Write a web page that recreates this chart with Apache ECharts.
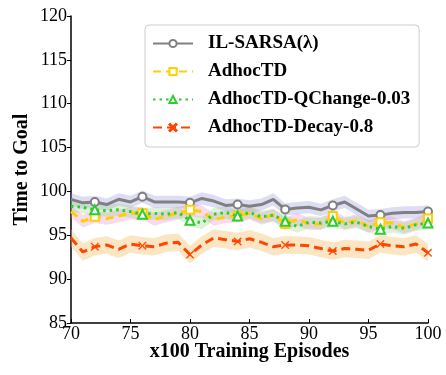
<!DOCTYPE html>
<html>
<head>
<meta charset="utf-8">
<script src="https://cdn.jsdelivr.net/npm/echarts@6/dist/echarts.min.js"></script>
<style>
  html, body { margin: 0; padding: 0; background: #fff; }
  #chart { width: 446px; height: 375px; }
</style>
</head>
<body>
<div id="chart"></div>
<script>
// Episodes (x100) shown in this window
const episodes = [70, 71, 72, 73, 74, 75, 76, 77, 78, 79, 80, 81, 82, 83, 84, 85,
                  86, 87, 88, 89, 90, 91, 92, 93, 94, 95, 96, 97, 98, 99, 100];

// Mean time to goal per method
const ilSarsa = [99.1, 98.7, 98.8, 98.5, 99.1, 98.8, 99.4, 98.8, 98.8, 98.8, 98.7, 99.2, 98.9, 98.4, 98.5, 98.3,
                 98.5, 99.1, 97.95, 98.1, 98.2, 97.9, 98.4, 98.8, 98.0, 97.2, 97.3, 97.5, 97.6, 97.6, 97.7];
const adhocTD = [97.7, 96.6, 97.1, 96.9, 97.2, 97.5, 97.5, 96.8, 97.2, 97.5, 97.9, 97.7, 96.8, 97.1, 97.2, 97.5,
                 96.9, 97.3, 96.3, 96.8, 96.3, 96.3, 97.2, 96.4, 96.7, 96.0, 96.5, 96.4, 95.9, 96.3, 96.9];
const qChange = [98.3, 98.2, 97.9, 97.8, 97.9, 97.7, 97.4, 97.5, 97.4, 97.6, 96.7, 96.4, 97.4, 97.6, 97.2, 97.6,
                 97.1, 97.3, 96.6, 96.0, 96.5, 96.4, 96.6, 96.3, 96.5, 96.0, 95.7, 96.0, 95.8, 96.2, 96.4];
const decay = [94.7, 93.1, 93.7, 93.9, 93.4, 94.0, 93.8, 93.7, 94.1, 94.2, 92.8, 93.9, 94.7, 94.5, 94.3, 94.6,
               94.2, 93.7, 93.9, 93.9, 93.8, 93.5, 93.2, 93.5, 93.4, 93.3, 94.0, 93.8, 93.7, 94.0, 93.0];

// Half-width of the shaded spread around each mean
const ilSarsaSpread = [0.7, 0.7, 0.7, 0.7, 0.7, 0.7, 0.7, 0.7, 0.7, 0.7, 0.7, 0.7, 0.7, 0.7, 0.7, 0.7,
                       0.7, 0.7, 0.7, 0.7, 0.7, 0.7, 0.7, 0.7, 0.7, 0.7, 0.7, 0.7, 0.7, 0.7, 0.7];
const adhocSpread = [0.7, 0.7, 0.7, 0.7, 0.7, 0.7, 0.7, 0.7, 0.7, 0.7, 0.7, 0.7, 0.7, 0.7, 0.7, 0.7,
                     0.7, 0.7, 0.7, 0.7, 0.7, 0.7, 0.7, 0.7, 0.7, 0.7, 0.7, 0.7, 0.7, 0.7, 0.7];
const qChangeSpread = [0.7, 0.7, 0.7, 0.7, 0.7, 0.7, 0.7, 0.7, 0.7, 0.7, 0.7, 0.7, 0.7, 0.7, 0.7, 0.7,
                       0.7, 0.7, 0.7, 0.7, 0.7, 0.7, 0.7, 0.7, 0.7, 0.7, 0.7, 0.7, 0.7, 0.7, 0.7];
const decaySpread = [1.0, 1.0, 1.0, 1.0, 1.0, 1.0, 1.0, 1.0, 1.0, 1.0, 1.0, 1.0, 1.0, 1.0, 1.0, 1.0,
                     1.0, 1.0, 1.0, 1.0, 1.0, 1.0, 1.0, 1.0, 1.0, 1.0, 1.0, 1.0, 1.0, 1.0, 1.0];

const xTicks = [70, 75, 80, 85, 90, 95, 100];
const yTicks = [85, 90, 95, 100, 105, 110, 115, 120];

const SERIF = '"Liberation Serif", "DejaVu Serif", serif';

const methods = [
  { name: 'IL-SARSA(λ)', mean: ilSarsa, spread: ilSarsaSpread, color: '#808080', dash: 'solid',
    symbol: 'emptyCircle', size: 8, band: 'rgba(150,150,225,0.32)' },
  { name: 'AdhocTD', mean: adhocTD, spread: adhocSpread, color: '#FFD000', dash: [8, 5],
    symbol: 'emptyRect', size: 8, band: 'rgba(235,140,205,0.32)' },
  { name: 'AdhocTD-QChange-0.03', mean: qChange, spread: qChangeSpread, color: '#2ECC2E', dash: [2.5, 4],
    symbol: 'emptyTriangle', size: 9, band: 'rgba(150,210,130,0.3)' },
  { name: 'AdhocTD-Decay-0.8', mean: decay, spread: decaySpread, color: '#FF4500', dash: [9, 5],
    symbol: 'path://M1,0L5,4L9,0L10,1L6,5L10,9L9,10L5,6L1,10L0,9L4,5L0,1Z', size: 8,
    band: 'rgba(245,190,100,0.38)' }
];

const series = [];

// shaded spread bands drawn as one polygon per method
methods.forEach((m) => {
  const rows = episodes.map((x, i) => [x, m.mean[i] - m.spread[i], m.mean[i] + m.spread[i]]);
  series.push({
    type: 'custom',
    data: rows,
    encode: { x: 0, y: [1, 2] },
    silent: true,
    z: 1,
    renderItem: (params, api) => {
      if (params.dataIndex !== 0) return null;
      const upper = rows.map(r => api.coord([r[0], r[2]]));
      const lower = rows.map(r => api.coord([r[0], r[1]])).reverse();
      return {
        type: 'polygon',
        shape: { points: upper.concat(lower) },
        style: { fill: m.band, stroke: null }
      };
    }
  });
});

// mean lines with a marker every 4 episodes
methods.forEach((m, k) => {
  series.push({
    name: m.name,
    type: 'line',
    data: episodes.map((x, i) => (i % 4 === 2
      ? { value: [x, m.mean[i]] }
      : { value: [x, m.mean[i]], symbol: 'none' })),
    showAllSymbol: true,
    symbol: m.symbol,
    symbolSize: m.size,
    lineStyle: { color: m.color, width: 3, type: m.dash, cap: 'butt' },
    itemStyle: k === 3
      ? { color: m.color, borderColor: m.color, borderWidth: 0.3 }
      : { color: m.color, borderColor: m.color, borderWidth: 1.3 },
    z: 5 + k
  });
});

const chart = echarts.init(document.getElementById('chart'), null, { renderer: 'canvas' });
chart.setOption({
  animation: false,
  backgroundColor: '#ffffff',
  grid: { left: 71, right: 18, top: 16, bottom: 52, containLabel: false },
  legend: {
    data: methods.map(m => m.name),
    orient: 'vertical',
    left: 145, top: 25,
    padding: [9, 9, 10, 7],
    itemWidth: 40, itemHeight: 9, itemGap: 9,
    backgroundColor: '#ffffff',
    borderColor: '#cccccc', borderWidth: 1, borderRadius: 4,
    textStyle: { fontFamily: SERIF, fontWeight: 'bold', fontSize: 19, color: '#000', padding: [0, 0, 0, 10] }
  },
  xAxis: {
    type: 'value', min: xTicks[0], max: xTicks[xTicks.length - 1], interval: 5,
    name: 'x100 Training Episodes', nameLocation: 'middle', nameGap: 19, nameMoveOverlap: false,
    nameTextStyle: { fontFamily: SERIF, fontWeight: 'bold', fontSize: 20, color: '#000', verticalAlign: 'top' },
    axisLine: { lineStyle: { color: '#000', width: 1.5 } },
    axisTick: { inside: true, length: 4, lineStyle: { color: '#000', width: 1 } },
    axisLabel: { fontFamily: SERIF, fontSize: 18, color: '#000', margin: 2,
      formatter: v => (xTicks.includes(v) ? String(v) : '') },
    splitLine: { show: false }
  },
  yAxis: {
    type: 'value', min: yTicks[0], max: yTicks[yTicks.length - 1], interval: 5,
    name: 'Time to Goal', nameLocation: 'middle', nameGap: 39, nameRotate: 90, nameMoveOverlap: false,
    nameTextStyle: { fontFamily: SERIF, fontWeight: 'bold', fontSize: 20, color: '#000', verticalAlign: 'bottom' },
    axisLine: { show: true, lineStyle: { color: '#000', width: 1.5 } },
    axisTick: { show: true, inside: false, length: 4, lineStyle: { color: '#000', width: 1 } },
    axisLabel: { fontFamily: SERIF, fontSize: 18, color: '#000', margin: 4,
      formatter: v => (yTicks.includes(v) ? String(v) : '') },
    splitLine: { show: false }
  },
  series: series
});
</script>
</body>
</html>
